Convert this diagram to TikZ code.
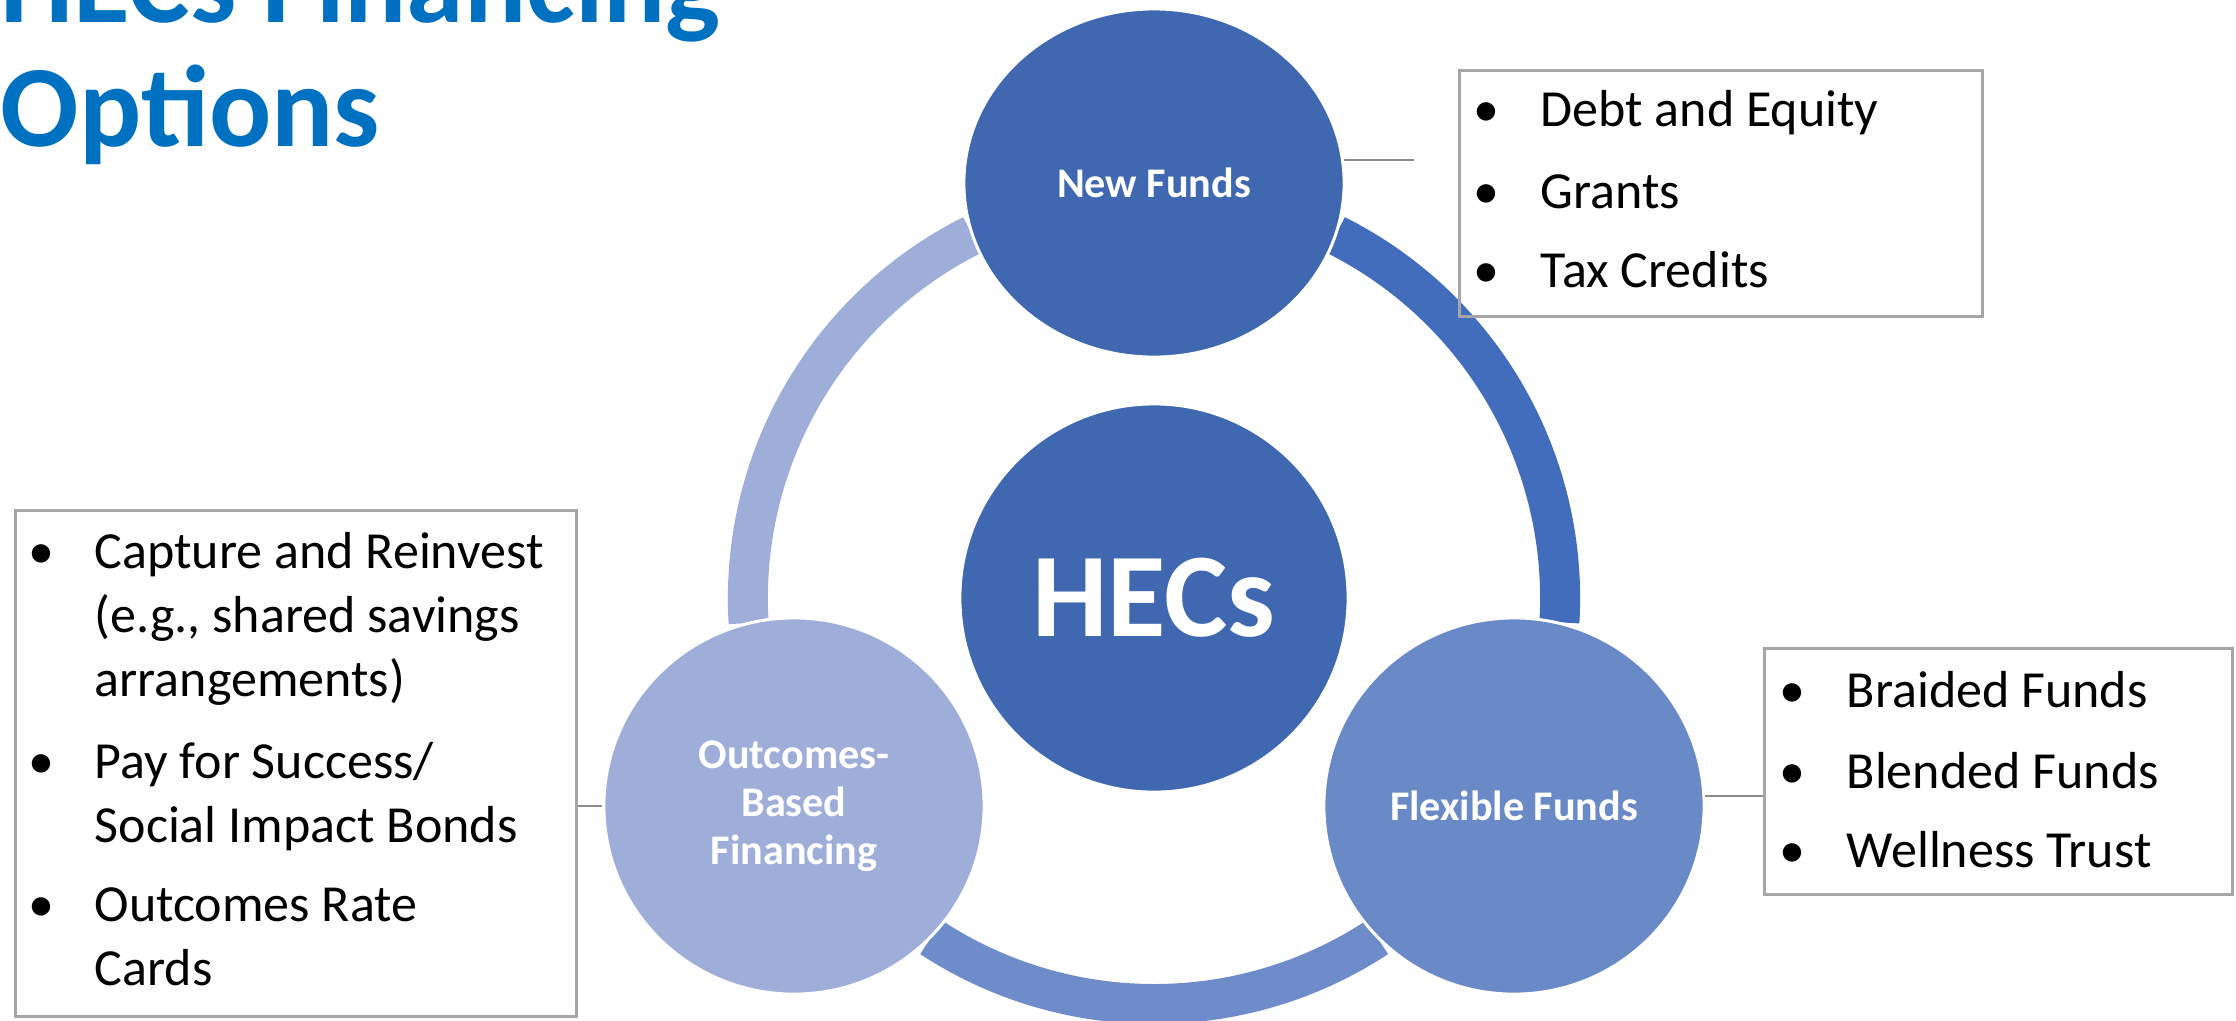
\documentclass[tikz,border=0pt]{standalone}
\usepackage{fontspec}
\setmainfont{Carlito}
\usetikzlibrary{shapes.geometric}

\definecolor{hubblue}{HTML}{3F68B1}
\definecolor{arcdark}{HTML}{416DBC}
\definecolor{midblue}{HTML}{6A89C7}
\definecolor{arcmid}{HTML}{6F8CCA}
\definecolor{paleblue}{HTML}{9FAED8}
\definecolor{titleblue}{HTML}{0070C0}
\definecolor{boxgray}{HTML}{A6A6A6}
\definecolor{leadgray}{HTML}{8C8C8C}

\tikzset{
  ringarc/.style={line width=0.4cm},
  hub/.style={circle, fill=hubblue, draw=white, line width=0.03cm, minimum size=3.88cm,
    text=white, font=\fontsize{34}{40}\selectfont\bfseries},
  spoke/.style={ellipse, draw=white, line width=0.03cm, minimum width=3.8cm, minimum height=3.76cm,
    inner sep=0pt, text=white, align=center, font=\fontsize{12}{13.66}\selectfont\bfseries},
  listbox/.style={draw=boxgray, line width=0.03cm, anchor=north west, inner sep=0pt},
  listtext/.style={anchor=base west, inner sep=0pt, font=\fontsize{14.8}{18.2}\selectfont},
  leader/.style={draw=leadgray, line width=0.02cm},
  heading/.style={anchor=base west, inner sep=0pt, text=titleblue, font=\fontsize{33}{35}\selectfont\bfseries}
}

\begin{document}
\begin{tikzpicture}[x=0.01cm, y=0.01cm]
\useasboundingbox (0,0) rectangle (2236,-1020);
\clip (0,0) rectangle (2236,-1020);

% title
\node[heading] (ttlA) at (0,-22) {HECs Financing};
\node[heading] (ttlB) at (0,-146) {Options};

% ring
\coordinate (ctr) at (1154,-598);
\draw[ringarc, paleblue] (ctr) ++(116.6:406) arc[start angle=116.6, end angle=183.5, radius=4.06cm];
\draw[ringarc, arcdark] (ctr) ++(63.4:406) arc[start angle=63.4, end angle=-3.4, radius=4.06cm];
\draw[ringarc, arcmid] (ctr) ++(236.7:406) arc[start angle=236.7, end angle=303.3, radius=4.06cm];

% circles
\node[hub] (hecs) at (ctr) {HECs};
\node[spoke, fill=hubblue, minimum height=3.48cm] (nf) at (1154,-183) {New Funds};
\node[spoke, fill=midblue] (ff) at (1514,-806) {Flexible Funds};
\node[spoke, fill=paleblue] (obf) at (794,-806) {Outcomes-\\Based\\Financing};

% lists
\node[listbox, minimum width=5.23cm, minimum height=2.46cm] (nfbox) at (1458,-69) {};
\node[listtext] (nfb1) at (1473,-126) {•};
\node[listtext] (nft1) at (1540,-126) {Debt and Equity};
\node[listtext] (nfb2) at (1473,-208) {•};
\node[listtext] (nft2) at (1540,-208) {Grants};
\node[listtext] (nfb3) at (1473,-287) {•};
\node[listtext] (nft3) at (1540,-287) {Tax Credits};

\node[listbox, minimum width=4.68cm, minimum height=2.46cm] (ffbox) at (1763,-647) {};
\node[listtext] (ffb1) at (1779,-707) {•};
\node[listtext] (fft1) at (1846,-707) {Braided Funds};
\node[listtext] (ffb2) at (1779,-788) {•};
\node[listtext] (fft2) at (1846,-788) {Blended Funds};
\node[listtext] (ffb3) at (1779,-867) {•};
\node[listtext] (fft3) at (1846,-867) {Wellness Trust};

\node[listbox, minimum width=5.61cm, minimum height=5.06cm] (obbox) at (14,-509) {};
\node[listtext] (obb1) at (28,-568) {•};
\node[listtext] (obt1) at (94,-568) {Capture and Reinvest};
\node[listtext] (obt2) at (94,-632) {(e.g., shared savings};
\node[listtext] (obt3) at (94,-696) {arrangements)};
\node[listtext] (obb2) at (28,-778) {•};
\node[listtext] (obt4) at (94,-778) {Pay for Success/};
\node[listtext] (obt5) at (94,-842) {Social Impact Bonds};
\node[listtext] (obb3) at (28,-921) {•};
\node[listtext] (obt6) at (94,-921) {Outcomes Rate};
\node[listtext] (obt7) at (94,-985) {Cards};

% leaders
\coordinate (nfend) at (1414,-159);
\draw[leader] (nf.7.3) -- (nf.7.3 -| nfend);
\draw[leader] (ff.3.6) -- (ff.3.6 -| ffbox.west);
\draw[leader] (obf.west) -- (obf.west -| obbox.east);

\end{tikzpicture}
\end{document}
